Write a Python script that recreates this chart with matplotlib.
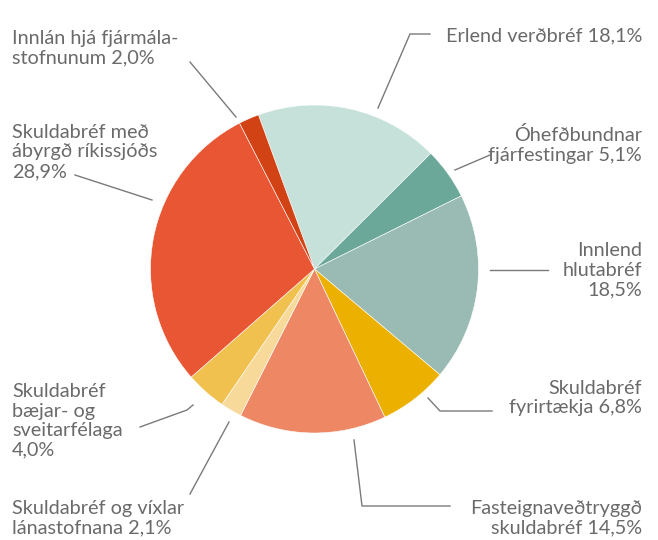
import matplotlib
matplotlib.use("Agg")
import matplotlib.pyplot as plt

labels = [
    "Erlend verðbréf 18,1%",
    "Óhefðbundnar\nfjárfestingar 5,1%",
    "Innlend\nhlutabréf\n18,5%",
    "Skuldabréf\nfyrirtækja 6,8%",
    "Fasteignaveðtryggð\nskuldabréf 14,5%",
    "Skuldabréf og víxlar\nlánastofnana 2,1%",
    "Skuldabréf\nbæjar- og\nsveitarfélaga\n4,0%",
    "Skuldabréf með\nábyrgð ríkissjóðs\n28,9%",
    "Innlán hjá fjármála-\nstofnunum 2,0%",
]
shares = [18.1, 5.1, 18.5, 6.8, 14.5, 2.1, 4.0, 28.9, 2.0]
colors = ["#c5e1d9", "#6ca89a", "#99bbb3", "#ecb100", "#ee8864",
          "#f7d99a", "#f1c14f", "#e85634", "#d14314"]

# label layout in pixel coords (y from top): text anchor, ha, leader polyline
label_pos = [
    ((642, 36), "right", [(378, 108), (410, 34), (430, 34)]),
    ((642, 145), "right", [(455, 170), (490, 155)]),
    ((642, 270), "right", [(490, 270), (548, 270)]),
    ((642, 398), "right", [(428, 398), (440, 411), (492, 411)]),
    ((642, 518), "right", [(354, 440), (362, 506), (450, 506)]),
    ((12, 518), "left", [(229, 422), (190, 494)]),
    ((12, 421), "left", [(193, 405), (187, 410), (140, 427)]),
    ((12, 152), "left", [(152, 200), (75, 175)]),
    ((12, 48), "left", [(236, 117), (190, 62)]),
]

W, H = 658, 540
fig = plt.figure(figsize=(W / 100, H / 100), dpi=100)
ax = fig.add_axes([0, 0, 1, 1])
ax.set_xlim(0, W)
ax.set_ylim(0, H)
ax.set_aspect("equal")
ax.axis("off")

ax.pie(shares, colors=colors, center=(314.5, H - 269), radius=164,
       startangle=110, counterclock=False,
       wedgeprops=dict(edgecolor="white", linewidth=0.4))
ax.set_xlim(0, W)
ax.set_ylim(0, H)

for text, ((tx, ty), ha, pts) in zip(labels, label_pos):
    xs = [p[0] for p in pts]
    ys = [H - p[1] for p in pts]
    ax.plot(xs, ys, color="#7a7a7a", lw=1)
    ax.text(tx, H - ty, text, ha=ha, va="center", fontsize=14.3,
            family="Lato", color="#6a6a6a",
            linespacing=1.18, multialignment=ha)

fig.savefig("out.png", dpi=100)
